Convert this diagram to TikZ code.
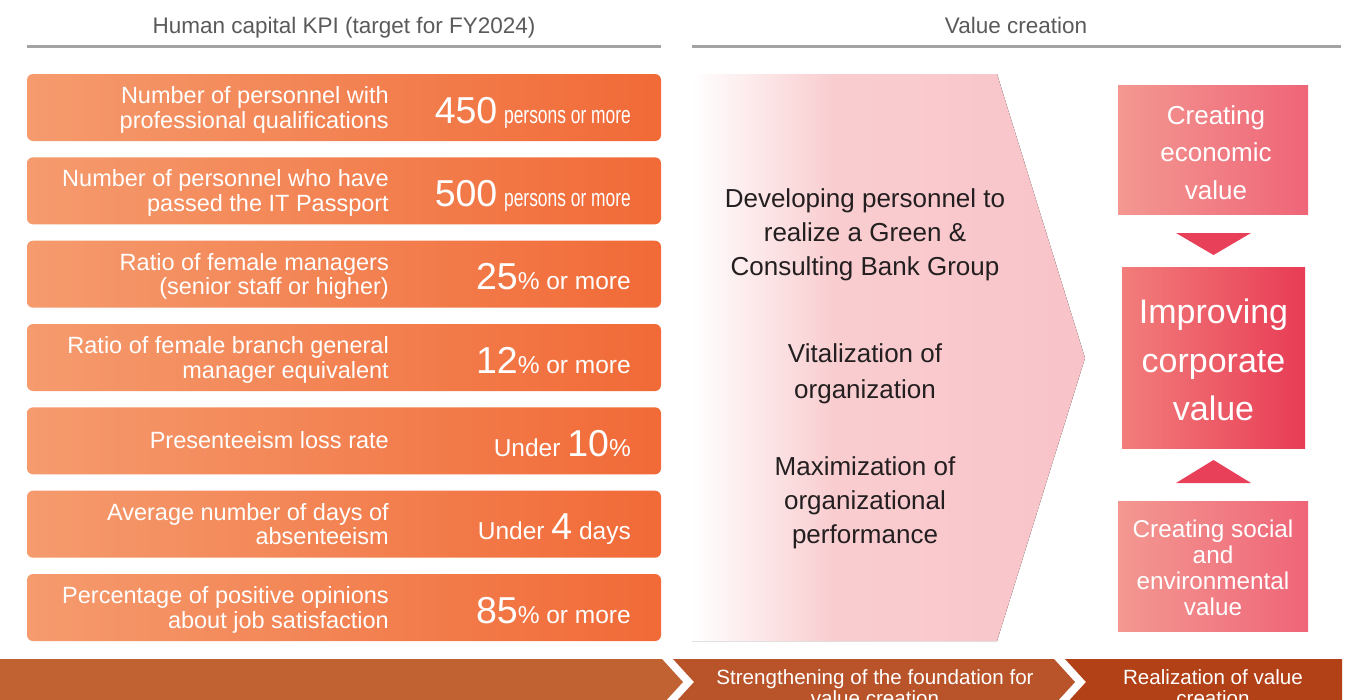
\documentclass[tikz,border=0pt]{standalone}
\usepackage{fontspec}
\setmainfont{Liberation Sans}
\usepackage{graphicx}

% palette
\definecolor{kpiL}{HTML}{F59B6E}
\definecolor{kpiR}{HTML}{F16A37}
\definecolor{headgray}{HTML}{A3A3A3}
\definecolor{headtext}{HTML}{5A5A5A}
\definecolor{pinkA}{HTML}{F9CDD0}
\definecolor{pinkB}{HTML}{F8C3C9}
\definecolor{valL}{HTML}{F39891}
\definecolor{valR}{HTML}{EF6578}
\definecolor{corpL}{HTML}{F27D7B}
\definecolor{corpR}{HTML}{E83C55}
\definecolor{trifill}{HTML}{E9405A}
\definecolor{bandA}{HTML}{C16233}
\definecolor{bandB}{HTML}{B9532A}
\definecolor{bandC}{HTML}{B24117}
\definecolor{darktext}{HTML}{231F20}

% white-to-pink fade for the big arrow (path box maps to 25bp..75bp)
\pgfdeclarehorizontalshading{pinkfade}{100bp}{color(0bp)=(white); color(25bp)=(white); color(43bp)=(pinkA); color(75bp)=(pinkB); color(100bp)=(pinkB)}

\newcommand\bignum[1]{{\fontsize{37.5}{37.5}\selectfont #1}}
\newcommand\narrowtxt[1]{\scalebox{0.71}[1]{#1}}

% one KPI bar: name, centre y, first line, second line, target
\newcommand\kpirow[5]{%
  \node[kpibox] (#1) at (344,#2) {};
  \node[kpilab] (#1a) at (389,#2-4) {#3};
  \node[kpilab] (#1b) at (389,#2+20.5) {#4};
  \node[kpival] (#1v) at (631,#2+15.5) {#5};
}

\begin{document}
\begin{tikzpicture}[x=1pt,y=-1pt,
  kpibox/.style={rectangle, rounded corners=6pt, left color=kpiL, right color=kpiR,
    minimum width=634pt, minimum height=67pt, inner sep=0pt},
  kpilab/.style={anchor=base east, inner sep=0pt, text=white,
    font=\fontsize{23.5}{24}\selectfont},
  kpival/.style={anchor=base east, inner sep=0pt, text=white,
    font=\fontsize{24.5}{25}\selectfont},
  headtxt/.style={anchor=base, inner sep=0pt, text=headtext,
    font=\fontsize{22.5}{23}\selectfont},
  headline/.style={draw=headgray, line width=3pt},
  arrowtxt/.style={anchor=base, inner sep=0pt, text=darktext,
    font=\fontsize{26}{26}\selectfont},
  valbox/.style={rectangle, left color=valL, right color=valR, inner sep=0pt},
  corpbox/.style={rectangle, left color=corpL, right color=corpR, inner sep=0pt},
  boxtxt/.style={anchor=base, inner sep=0pt, text=white},
  bandtxt/.style={anchor=base, inner sep=0pt, text=white,
    font=\fontsize{20.6}{21}\selectfont},
]
\useasboundingbox (0,0) rectangle (1354,699);
\clip (0,0) rectangle (1354,699);
\fill[white] (0,0) rectangle (1354,699);

% column headings
\node[headtxt] (hkpi) at (344,33) {Human capital KPI (target for FY2024)};
\draw[headline] (27,46.5) -- (661,46.5);
\node[headtxt] (hval) at (1016,33) {Value creation};
\draw[headline] (692,46.5) -- (1341,46.5);

% KPI bars
\kpirow{k1}{107.5}{Number of personnel with}{professional qualifications}
  {\bignum{450} \narrowtxt{persons or more}}
\kpirow{k2}{190.8}{Number of personnel who have}{passed the IT Passport}
  {\bignum{500} \narrowtxt{persons or more}}
\kpirow{k3}{274.2}{Ratio of female managers}{(senior staff or higher)}
  {\bignum{25}\% or more}
\kpirow{k4}{357.5}{Ratio of female branch general}{manager equivalent}
  {\bignum{12}\% or more}
\node[kpibox] (k5) at (344,440.8) {};
\node[kpilab] (k5a) at (389,448.8) {Presenteeism loss rate};
\node[kpival] (k5v) at (631,456.3) {Under \bignum{10}\%};
\kpirow{k6}{524.2}{Average number of days of}{absenteeism}
  {Under \bignum{4} days}
\kpirow{k7}{607.5}{Percentage of positive opinions}{about job satisfaction}
  {\bignum{85}\% or more}

% big fading arrow
\fill[shading=pinkfade] (692,74) -- (997,74) -- (1085,358) -- (997,641) -- (692,641) -- cycle;
\node[arrowtxt] (d1) at (865,207) {Developing personnel to};
\node[arrowtxt] (d2) at (865,241) {realize a Green \&};
\node[arrowtxt] (d3) at (865,275) {Consulting Bank Group};
\node[arrowtxt] (v1) at (865,362) {Vitalization of};
\node[arrowtxt] (v2) at (865,398) {organization};
\node[arrowtxt] (m1) at (865,475) {Maximization of};
\node[arrowtxt] (m2) at (865,509) {organizational};
\node[arrowtxt] (m3) at (865,543) {performance};

% value boxes
\node[valbox, minimum width=190pt, minimum height=129pt] (econ) at (1213,149.5) {};
\node[boxtxt, font=\fontsize{26}{26}\selectfont] (e1) at (1216,124) {Creating};
\node[boxtxt, font=\fontsize{26}{26}\selectfont] (e2) at (1216,161.5) {economic};
\node[boxtxt, font=\fontsize{26}{26}\selectfont] (e3) at (1216,199) {value};

\node[corpbox, minimum width=183pt, minimum height=181pt] (corp) at (1213.5,357.5) {};
\node[boxtxt, font=\fontsize{34}{34}\selectfont] (c1) at (1213.5,323) {Improving};
\node[boxtxt, font=\fontsize{34}{34}\selectfont] (c2) at (1213.5,372) {corporate};
\node[boxtxt, font=\fontsize{34}{34}\selectfont] (c3) at (1213.5,420) {value};

\node[valbox, minimum width=190pt, minimum height=130pt] (soc) at (1213,566) {};
\node[boxtxt, font=\fontsize{24.3}{24}\selectfont] (s1) at (1213,537) {Creating social};
\node[boxtxt, font=\fontsize{24.3}{24}\selectfont] (s2) at (1213,563) {and};
\node[boxtxt, font=\fontsize{24.3}{24}\selectfont] (s3) at (1213,589) {environmental};
\node[boxtxt, font=\fontsize{24.3}{24}\selectfont] (s4) at (1213,615) {value};

% pointers into the corporate value box
\fill[trifill] (1176,233) -- (1251,233) -- (1213.5,255) -- cycle;
\fill[trifill] (1176,483) -- (1251,483) -- (1213.5,460) -- cycle;

% stage band along the bottom
\fill[bandA] (0,659) -- (662,659) -- (683,682) -- (662,705) -- (0,705) -- cycle;
\fill[bandB] (673,659) -- (1054,659) -- (1075,682) -- (1054,705) -- (673,705) -- (694,682) -- cycle;
\fill[bandC] (1065,659) -- (1342,659) -- (1342,705) -- (1065,705) -- (1086,682) -- cycle;
\node[bandtxt] (b1) at (875,684) {Strengthening of the foundation for};
\node[bandtxt] (b2) at (875,705) {value creation};
\node[bandtxt] (r1) at (1213,684) {Realization of value};
\node[bandtxt] (r2) at (1213,705) {creation};
\end{tikzpicture}
\end{document}
